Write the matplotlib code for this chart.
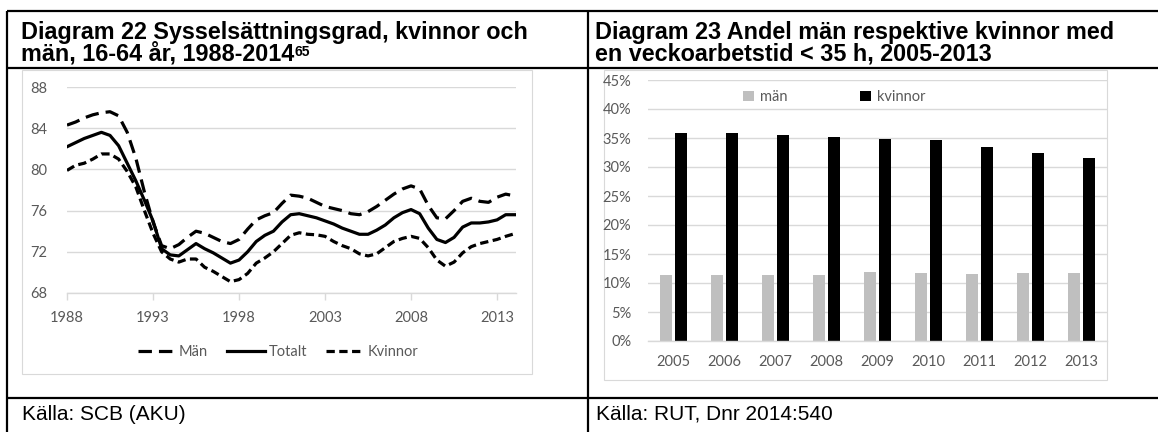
import matplotlib.pyplot as plt
from matplotlib.patches import Rectangle

W, H = 1158, 432

# Diagram 22: sysselsättningsgrad (half-year readings)
years_22 = [1988.0, 1988.5, 1989.0, 1989.5, 1990.0, 1990.5, 1991.0, 1991.5,
            1992.0, 1992.5, 1993.0, 1993.5, 1994.0, 1994.5, 1995.0, 1995.5,
            1996.0, 1996.5, 1997.0, 1997.5, 1998.0, 1998.5, 1999.0, 1999.5,
            2000.0, 2000.5, 2001.0, 2001.5, 2002.0, 2002.5, 2003.0, 2003.5,
            2004.0, 2004.5, 2005.0, 2005.5, 2006.0, 2006.5, 2007.0, 2007.5,
            2008.0, 2008.5, 2009.0, 2009.5, 2010.0, 2010.5, 2011.0, 2011.5,
            2012.0, 2012.5, 2013.0, 2013.5, 2014.1]
man = [84.3, 84.6, 85.0, 85.3, 85.5, 85.6, 85.2, 83.6,
       81.1, 77.8, 74.9, 72.6, 72.3, 72.7, 73.4, 74.0,
       73.8, 73.4, 73.0, 72.8, 73.2, 74.2, 75.1, 75.5,
       75.8, 76.7, 77.5, 77.4, 77.2, 76.8, 76.4, 76.2,
       76.0, 75.7, 75.6, 75.9, 76.4, 77.0, 77.6, 78.1,
       78.4, 78.1, 76.5, 75.3, 75.2, 76.0, 76.9, 77.2,
       76.9, 76.8, 77.3, 77.6, 77.4]
totalt = [82.2, 82.6, 83.0, 83.3, 83.6, 83.3, 82.3, 80.6,
          78.9, 77.0, 75.0, 72.3, 71.7, 71.6, 72.2, 72.8,
          72.3, 71.9, 71.4, 70.9, 71.2, 72.0, 73.0, 73.6,
          74.0, 74.9, 75.6, 75.7, 75.5, 75.3, 75.0, 74.7,
          74.3, 74.0, 73.7, 73.7, 74.1, 74.6, 75.3, 75.8,
          76.1, 75.7, 74.3, 73.2, 72.9, 73.4, 74.4, 74.8,
          74.8, 74.9, 75.1, 75.6, 75.6]
kvinnor = [79.9, 80.4, 80.6, 81.0, 81.5, 81.5, 81.0, 79.8,
           78.3, 76.0, 73.8, 72.0, 71.3, 71.0, 71.3, 71.3,
           70.5, 70.1, 69.6, 69.1, 69.3, 69.9, 70.9, 71.4,
           72.0, 72.8, 73.6, 73.85, 73.7, 73.65, 73.5, 73.0,
           72.6, 72.3, 71.8, 71.6, 71.8, 72.4, 73.0, 73.3,
           73.5, 73.3, 72.4, 71.2, 70.6, 71.0, 71.9, 72.5,
           72.8, 73.0, 73.2, 73.5, 73.8]
xticks_22 = [1988, 1993, 1998, 2003, 2008, 2013]
yticks_22 = [68, 72, 76, 80, 84, 88]

# Diagram 23: andel med veckoarbetstid < 35 h (%)
years_23 = ['2005', '2006', '2007', '2008', '2009', '2010', '2011', '2012', '2013']
man_23 = [11.4, 11.3, 11.3, 11.3, 11.9, 11.8, 11.5, 11.7, 11.8]
kvinnor_23 = [35.9, 35.8, 35.6, 35.2, 34.9, 34.6, 33.5, 32.5, 31.6]
yticks_23 = [0, 5, 10, 15, 20, 25, 30, 35, 40, 45]

GRID = '#D9D9D9'
LABEL = '#595959'
TICKFONT = 'Lato'


def box(x0, y0, x1, y1):
    return [x0 / W, 1 - y1 / H, (x1 - x0) / W, (y1 - y0) / H]


fig = plt.figure(figsize=(W / 100, H / 100), dpi=100)

# table background in pixel coordinates
bg = fig.add_axes([0, 0, 1, 1], zorder=0)
bg.set_xlim(0, W)
bg.set_ylim(H, 0)
bg.axis('off')
for x in [7, 588]:
    bg.plot([x, x], [11, H], color='black', lw=1.6, solid_capstyle='butt')
for y in [11, 68, 398]:
    bg.plot([7, W], [y, y], color='black', lw=1.6, solid_capstyle='butt')
bg.add_patch(Rectangle((22, 70), 510, 304, fill=False, edgecolor=GRID, lw=0.8))
bg.add_patch(Rectangle((604, 70), 503, 310, fill=False, edgecolor=GRID, lw=0.8))

tfont = dict(family='Liberation Sans', fontsize=16.8, fontweight='bold', color='black')
bg.text(21, 39, 'Diagram 22 Sysselsättningsgrad, kvinnor och', va='baseline', **tfont)
t2 = bg.text(21, 61, 'män, 16-64 år, 1988-2014', va='baseline', **tfont)
bg.annotate('65', xy=(1, 1), xycoords=t2, xytext=(0.5, -1.5), textcoords='offset points',
            va='top', ha='left', family='Liberation Sans', fontsize=10, fontweight='bold')
bg.text(595, 39, 'Diagram 23 Andel män respektive kvinnor med', va='baseline', **tfont)
bg.text(595, 61, 'en veckoarbetstid < 35 h, 2005-2013', va='baseline', **tfont)
bg.text(22, 420, 'Källa: SCB (AKU)', va='baseline', family='Liberation Sans', fontsize=15)
bg.text(596, 420, 'Källa: RUT, Dnr 2014:540', va='baseline', family='Liberation Sans', fontsize=15)

# Diagram 22
ax1 = fig.add_axes(box(67, 87, 516, 293), zorder=1)
ax1.patch.set_alpha(0)
ax1.plot(years_22, man, color='black', lw=2.3, dashes=(4.2, 2.2), label='Män')
ax1.plot(years_22, totalt, color='black', lw=2.3, label='Totalt')
ax1.plot(years_22, kvinnor, color='black', lw=2.3, dashes=(2.6, 1.4), label='Kvinnor')
ax1.set_xlim(1988, 2014.1)
ax1.set_ylim(68, 88)
ax1.set_xticks(xticks_22)
ax1.set_xticklabels([str(y) for y in xticks_22])
ax1.set_yticks(yticks_22)
ax1.set_yticklabels([str(y) for y in yticks_22])
ax1.grid(axis='y', color=GRID, lw=1)
ax1.set_axisbelow(True)
for s in ['top', 'right', 'left']:
    ax1.spines[s].set_visible(False)
ax1.spines['bottom'].set_color(GRID)
ax1.spines['bottom'].set_linewidth(1)
ax1.tick_params(axis='x', colors=GRID, length=5, width=1, pad=8, labelcolor=LABEL, labelsize=10.5)
ax1.tick_params(axis='y', length=0, pad=14, labelcolor=LABEL, labelsize=10.5)
for lab in ax1.get_xticklabels() + ax1.get_yticklabels():
    lab.set_family(TICKFONT)
leg1 = ax1.legend(loc='center', bbox_to_anchor=(278 / W, 1 - 352 / H),
                  bbox_transform=fig.transFigure, ncol=3, frameon=False, handlelength=2.6,
                  handletextpad=0.25, columnspacing=1.3, prop={'family': TICKFONT, 'size': 10.5})
for t in leg1.get_texts():
    t.set_color(LABEL)

# Diagram 23
ax2 = fig.add_axes(box(648, 80, 1107, 341), zorder=1)
ax2.patch.set_alpha(0)
pos = list(range(len(years_23)))
ax2.bar([p - 0.147 for p in pos], man_23, width=0.216, color='#BFBFBF', label='män')
ax2.bar([p + 0.147 for p in pos], kvinnor_23, width=0.216, color='black', label='kvinnor')
ax2.set_xlim(-0.5, len(years_23) - 0.5)
ax2.set_ylim(0, 45)
ax2.set_xticks(pos)
ax2.set_xticklabels(years_23)
ax2.set_yticks(yticks_23)
ax2.set_yticklabels([f'{v}%' for v in yticks_23])
ax2.grid(axis='y', color=GRID, lw=1)
ax2.set_axisbelow(True)
for s in ['top', 'right', 'left']:
    ax2.spines[s].set_visible(False)
ax2.spines['bottom'].set_color(GRID)
ax2.spines['bottom'].set_linewidth(1)
ax2.tick_params(axis='x', length=0, pad=10, labelcolor=LABEL, labelsize=10.5)
ax2.tick_params(axis='y', length=0, pad=12, labelcolor=LABEL, labelsize=10.5)
for lab in ax2.get_xticklabels() + ax2.get_yticklabels():
    lab.set_family(TICKFONT)
leg2 = ax2.legend(loc='center', bbox_to_anchor=(834 / W, 1 - 97 / H), bbox_transform=fig.transFigure,
                  ncol=2, frameon=False, handlelength=0.75, handleheight=0.75, handletextpad=0.4,
                  columnspacing=5.0, prop={'family': TICKFONT, 'size': 10.5})
for t in leg2.get_texts():
    t.set_color(LABEL)

fig.savefig('out.png', dpi=100)
